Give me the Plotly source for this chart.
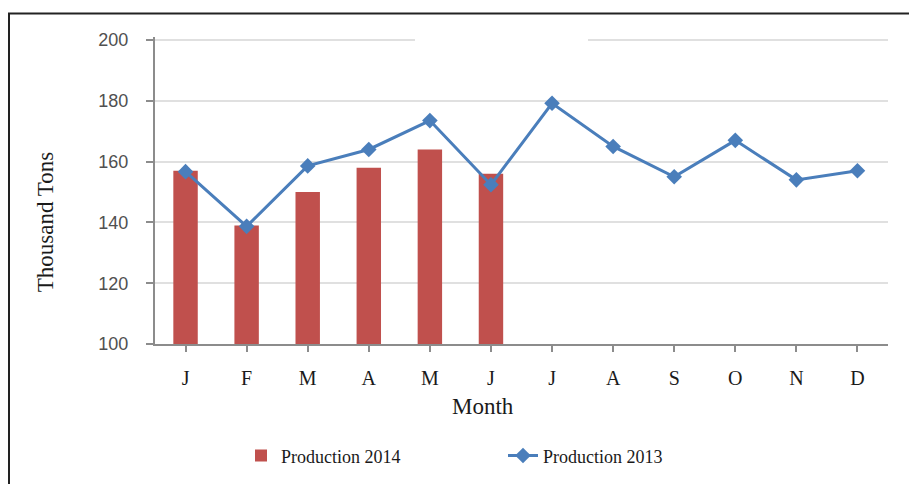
import plotly.graph_objects as go

months = ["J", "F", "M", "A", "M", "J", "J", "A", "S", "O", "N", "D"]
prod_2014 = [157, 139, 150, 158, 164, 156]
prod_2013 = [156.7, 138.7, 158.6, 164, 173.5, 152.4, 179.2, 165, 155, 167, 154, 157]
y_ticks = [100, 120, 140, 160, 180, 200]

x_idx = list(range(len(months)))

OFF = 8  # page body offset
W, H = 917, 484
L, R, T, B = 155 - OFF, 37, 36.5 - OFF, 148
pw, ph = W - L - R, H - T - B


def px(xp):
    return (xp - OFF - L) / pw


def py(yp):
    return (H - B - (yp - OFF)) / ph


fig = go.Figure()
fig.add_trace(go.Bar(
    x=x_idx[:len(prod_2014)], y=prod_2014, name="Production 2014",
    marker=dict(color="#C0504D", line=dict(width=0)), width=0.4,
))
fig.add_trace(go.Scatter(
    x=x_idx, y=prod_2013, name="Production 2013", mode="lines+markers",
    line=dict(color="#4A7EBB", width=3),
    marker=dict(symbol="diamond", size=12, color="#4A7EBB"),
))

fig.update_layout(
    width=W, height=H,
    margin=dict(l=L, r=R, t=T, b=B),
    paper_bgcolor="white", plot_bgcolor="white",
    showlegend=True,
    legend=dict(
        orientation="h", x=px(241), xanchor="left", y=py(456), yanchor="middle",
        font=dict(family="Liberation Serif", size=18, color="#1a1a1a"),
        entrywidth=217, entrywidthmode="pixels",
        bgcolor="rgba(0,0,0,0)",
    ),
    xaxis=dict(
        range=[-0.5, 11.5], tickmode="array", tickvals=x_idx, ticktext=months,
        tickson="boundaries", ticks="outside", ticklen=6, tickcolor="#8c8c8c",
        tickwidth=1.5,
        showline=True, linecolor="#8c8c8c", linewidth=2, showgrid=False,
        tickfont=dict(family="Liberation Serif", size=20, color="#1a1a1a"),
        ticklabelstandoff=9, zeroline=False,
    ),
    yaxis=dict(
        range=[100, 201], tickmode="array", tickvals=y_ticks,
        ticks="outside", ticklen=7, tickcolor="#8c8c8c", tickwidth=1.5,
        showline=True, linecolor="#8c8c8c", linewidth=2,
        showgrid=True, gridcolor="#e0e0e0", gridwidth=2,
        tickfont=dict(family="Liberation Sans", size=18, color="#505050"),
        ticklabelstandoff=14, zeroline=False,
    ),
    shapes=[
        # white patch over part of the top gridline (as in the reference)
        dict(type="rect", xref="paper", yref="paper", x0=px(415), x1=px(588),
             y0=py(46), y1=py(33), fillcolor="white", line=dict(width=0), layer="above"),
        # frame lines
        dict(type="line", xref="paper", yref="paper", x0=px(8), x1=px(930),
             y0=py(13), y1=py(13), line=dict(color="#222222", width=2)),
        dict(type="line", xref="paper", yref="paper", x0=px(9), x1=px(9),
             y0=py(13), y1=py(490), line=dict(color="#222222", width=2)),
    ],
    annotations=[
        dict(text="Month", xref="paper", yref="paper", x=px(483), y=py(407),
             xanchor="center", yanchor="middle", showarrow=False,
             font=dict(family="Liberation Serif", size=23, color="#1a1a1a")),
        dict(text="Thousand Tons", xref="paper", yref="paper", x=px(45), y=py(222),
             xanchor="center", yanchor="middle", showarrow=False, textangle=-90,
             font=dict(family="Liberation Serif", size=23, color="#1a1a1a")),
    ],
)

fig.write_html("out.html")
